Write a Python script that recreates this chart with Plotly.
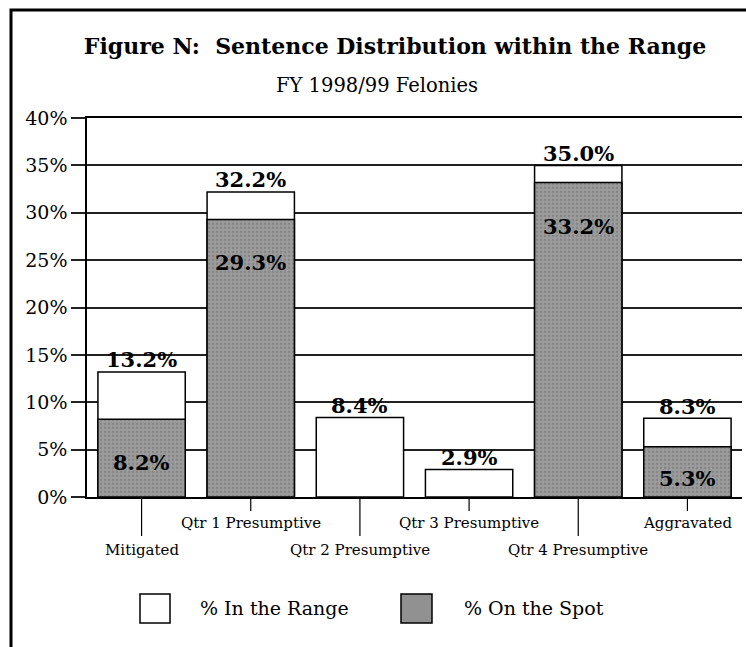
import plotly.graph_objects as go

# Data
categories = ["Mitigated", "Qtr 1 Presumptive", "Qtr 2 Presumptive",
              "Qtr 3 Presumptive", "Qtr 4 Presumptive", "Aggravated"]
in_range = [13.2, 32.2, 8.4, 2.9, 35.0, 8.3]
on_spot = [8.2, 29.3, None, None, 33.2, 5.3]
y_ticks = [0, 5, 10, 15, 20, 25, 30, 35, 40]

FONT = "DejaVu Serif"
GRAY = "#919191"

# Plot area in pixels (used to place page decorations)
L, R, T, B = 87, 742, 118, 497


def px(x):
    return (x - L) / (R - L)


def py(y):
    return (B - y) / (B - T)


fig = go.Figure()

fig.add_trace(go.Bar(
    x=categories, y=in_range, name="% In the Range",
    marker=dict(color="white", line=dict(color="black", width=1.5)),
    showlegend=False,
))
fig.add_trace(go.Bar(
    x=categories, y=on_spot, name="% On the Spot",
    marker=dict(color=GRAY, line=dict(color="black", width=1.5),
                pattern=dict(shape=".", fgcolor="#6c6c6c", bgcolor="#9b9b9b",
                             size=4, solidity=0.25)),
    showlegend=False,
))

annotations = []
# value labels above the white bars
for c, v in zip(categories, in_range):
    annotations.append(dict(x=c, y=v, xref="x", yref="y", text=f"{v:.1f}%",
                            showarrow=False, yanchor="middle", yshift=12,
                            font=dict(family=FONT, size=21, color="black", weight="bold")))
# value labels inside the gray bars
for c, v in zip(categories, on_spot):
    if v is None:
        continue
    annotations.append(dict(x=c, y=max(v - 4.6, 2.0), xref="x", yref="y",
                            text=f"{v:.1f}%", showarrow=False, yanchor="middle",
                            font=dict(family=FONT, size=21, color="black", weight="bold")))

shapes = []
# staggered category labels with tick lines
for i, c in enumerate(categories):
    low = i % 2 == 0
    shapes.append(dict(type="line", xref="x", yref="paper", x0=c, x1=c,
                       y0=py(497), y1=py(536 if low else 511),
                       line=dict(color="black", width=1.2)))
    annotations.append(dict(x=c, y=py(550 if low else 523), xref="x", yref="paper",
                            text=c, showarrow=False, yanchor="middle",
                            font=dict(family=FONT, size=15, color="black")))

# subtitle
annotations.append(dict(x=px(377), y=py(86), xref="paper", yref="paper",
                        text="FY 1998/99 Felonies", showarrow=False, yanchor="middle",
                        font=dict(family=FONT, size=19.5, color="black")))

# legend drawn by hand
shapes.append(dict(type="rect", xref="paper", yref="paper",
                   x0=px(140), x1=px(170), y0=py(623), y1=py(594),
                   fillcolor="white", line=dict(color="black", width=1.5)))
shapes.append(dict(type="rect", xref="paper", yref="paper",
                   x0=px(401), x1=px(432), y0=py(623), y1=py(594),
                   fillcolor=GRAY, line=dict(color="black", width=1.5)))
annotations.append(dict(x=px(198), y=py(608), xref="paper", yref="paper",
                        text="% In the Range", showarrow=False, xanchor="left",
                        yanchor="middle", font=dict(family=FONT, size=19, color="black")))
annotations.append(dict(x=px(462), y=py(608), xref="paper", yref="paper",
                        text="% On the Spot", showarrow=False, xanchor="left",
                        yanchor="middle", font=dict(family=FONT, size=19, color="black")))

# page frame (left and top edges visible)
shapes.append(dict(type="rect", xref="paper", yref="paper",
                   x0=px(11), x1=px(800), y0=py(720), y1=py(10),
                   line=dict(color="black", width=3)))

fig.update_layout(
    width=746, height=647,
    margin=dict(l=L, r=746 - R, t=T, b=647 - B),
    paper_bgcolor="white", plot_bgcolor="white",
    barmode="overlay", bargap=0.2,
    title=dict(text="<b>Figure N:  Sentence Distribution within the Range</b>",
               x=395 / 746, xanchor="center", y=1 - 46 / 647, yanchor="middle",
               font=dict(family=FONT, size=22, color="black")),
    xaxis=dict(showticklabels=False, ticks="", showline=True, linecolor="black",
               linewidth=1.5, mirror=True, showgrid=False, fixedrange=True),
    yaxis=dict(range=[0, 40], tickvals=y_ticks,
               ticktext=[f"{t}%" for t in y_ticks],
               ticks="outside", ticklen=14, tickcolor="#222", tickwidth=1.5,
               showgrid=True, gridcolor="#222", gridwidth=1.5,
               showline=True, linecolor="black", linewidth=1.5,
               zeroline=False,
               tickfont=dict(family=FONT, size=19, color="black")),
    annotations=annotations,
    shapes=shapes,
)

fig.write_html("out.html", config={"displayModeBar": False},
               post_script="document.body.style.margin='0';")
